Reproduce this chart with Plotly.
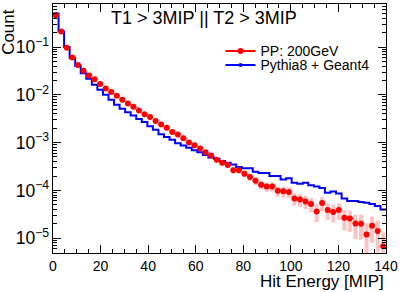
import numpy as np
import plotly.graph_objects as go

# Hit energy histogram: 60 bins between 0 and 140 MIP
x_min, x_max, n_bins = 0.0, 140.0, 60

data_pp = [0.46, 0.21, 0.097, 0.060, 0.042, 0.032, 0.0252, 0.0212, 0.0169, 0.0135,
           0.0114, 0.0095, 0.0079, 0.0066, 0.0056, 0.0047, 0.0039, 0.00343, 0.00283, 0.0024,
           0.00205, 0.00167, 0.00147, 0.00123, 0.00101, 0.00088, 0.00075, 0.00063, 0.00054, 0.00044,
           0.000377, 0.000338, 0.000265, 0.000265, 0.000223, 0.00019, 0.000159, 0.000131, 0.00012, 0.00012,
           0.0000977, 0.0000957, 0.0000923, 0.0000676, 0.0000644, 0.0000589, 0.0000519, 0.0000363, 0.0000545, 0.000039,
           0.0000355, 0.000039, 0.0000269, 0.0000257, 0.0000204, 0.0000201, 0.000012, 0.0000182, 0.0000141, 0.0000068]

rel_err_pp = [0.004, 0.005, 0.008, 0.01, 0.012, 0.013, 0.015, 0.016, 0.018, 0.02,
              0.022, 0.025, 0.027, 0.03, 0.032, 0.035, 0.038, 0.04, 0.045, 0.05,
              0.053, 0.06, 0.063, 0.07, 0.075, 0.08, 0.088, 0.095, 0.1, 0.115,
              0.12, 0.13, 0.15, 0.15, 0.16, 0.17, 0.19, 0.21, 0.22, 0.22,
              0.24, 0.25, 0.25, 0.29, 0.3, 0.31, 0.33, 0.4, 0.33, 0.38,
              0.4, 0.38, 0.46, 0.47, 0.53, 0.54, 0.7, 0.56, 0.64, 0.9]

sim_pythia = [0.50, 0.21, 0.10, 0.058, 0.040, 0.0283, 0.0216, 0.0162, 0.0127, 0.010,
              0.0079, 0.0062, 0.0051, 0.0043, 0.0037, 0.0031, 0.0027, 0.0022, 0.00186, 0.0015,
              0.00131, 0.00115, 0.00097, 0.00087, 0.00078, 0.00069, 0.00063, 0.00055, 0.00049, 0.00046,
              0.00041, 0.00038, 0.00035, 0.00031, 0.00029, 0.00029, 0.000245, 0.00023, 0.00023, 0.0002,
              0.0002, 0.00017, 0.00018, 0.000145, 0.000138, 0.000145, 0.000128, 0.00012, 0.000112, 0.000089,
              0.000095, 0.0000865, 0.0000675, 0.00006, 0.00006, 0.000057, 0.000055, 0.000052, 0.000047, 0.00004]

legend_pp = "PP: 200GeV"
legend_sim = "Pythia8 + Geant4"
title_text = "T1 > 3MIP || T2 > 3MIP"
x_title = "Hit Energy [MIP]"
y_title = "Count"

edges = np.linspace(x_min, x_max, n_bins + 1)
centers = 0.5 * (edges[:-1] + edges[1:])
half_w = 0.5 * (edges[1] - edges[0])
pp = np.array(data_pp)
err = pp * np.array(rel_err_pp)

FONT = "Liberation Sans, Arial, Helvetica, sans-serif"
fig = go.Figure()

# simulation histogram (step outline)
fig.add_trace(go.Scatter(
    x=edges, y=list(sim_pythia) + [sim_pythia[-1]], mode="lines",
    line=dict(color="#0000ff", width=2, shape="hv"), showlegend=False, hoverinfo="skip"))

# error boxes (pink)
fig.add_trace(go.Scatter(
    x=centers, y=pp, mode="markers", marker=dict(size=1, opacity=0),
    error_y=dict(type="data", array=err, color="rgba(255,120,120,0.45)", thickness=4, width=0),
    showlegend=False, hoverinfo="skip"))

# data points
fig.add_trace(go.Scatter(
    x=centers, y=pp, mode="markers",
    marker=dict(color="#ff0000", size=6, symbol="circle"),
    error_x=dict(type="constant", value=half_w, color="#ff0000", thickness=1.2, width=0),
    showlegend=False))

# legend entries
fig.add_trace(go.Scatter(x=[None], y=[None], mode="lines+markers", name=legend_pp,
                         line=dict(color="#ff0000", width=2),
                         marker=dict(color="#ff0000", size=6), legend="legend"))
fig.add_trace(go.Scatter(x=[None], y=[None], mode="lines+markers", name=legend_sim,
                         line=dict(color="#0000ff", width=2),
                         marker=dict(color="#0000ff", size=4), legend="legend2"))

axis_common = dict(showline=True, linecolor="black", linewidth=1, mirror="allticks",
                   ticks="inside", tickcolor="black", showgrid=False, zeroline=False,
                   automargin=False,
                   tickfont=dict(family=FONT, size=14, color="black"))

fig.update_xaxes(range=[x_min, x_max], dtick=20, tick0=0, ticklen=8,
                 minor=dict(ticks="inside", ticklen=4, dtick=5, tickcolor="black"),
                 **axis_common)
fig.update_yaxes(type="log", range=[-5.31, -0.10], dtick=1, ticklen=8,
                 exponentformat="power",
                 minor=dict(ticks="inside", ticklen=4, dtick="D1", tickcolor="black"),
                 **axis_common)

fig.add_annotation(text=title_text, xref="paper", yref="paper", x=0.452, y=0.945,
                   xanchor="center", yanchor="middle", showarrow=False,
                   font=dict(family=FONT, size=18, color="black"))
fig.add_annotation(text=x_title, xref="paper", yref="paper", x=1.0, y=-0.068,
                   xanchor="right", yanchor="top", showarrow=False,
                   font=dict(family=FONT, size=17, color="black"))
fig.add_annotation(text=y_title, xref="paper", yref="paper", x=-0.134, y=0.99,
                   xanchor="center", yanchor="top", textangle=-90, showarrow=False,
                   font=dict(family=FONT, size=17, color="black"))

leg_common = dict(xanchor="left", yanchor="top", bgcolor="rgba(0,0,0,0)",
                  font=dict(family=FONT, size=14, color="black"), itemsizing="trace")
fig.update_layout(
    width=407, height=292,
    margin=dict(l=53, r=21, t=4, b=39, autoexpand=False),
    paper_bgcolor="white", plot_bgcolor="white",
    font=dict(family=FONT, size=14, color="black"),
    legend=dict(x=0.503, y=0.874, **leg_common),
    legend2=dict(x=0.503, y=0.818, **leg_common),
)

fig.write_html("out.html", config={"displayModeBar": False},
               post_script="document.body.style.margin='0';")
